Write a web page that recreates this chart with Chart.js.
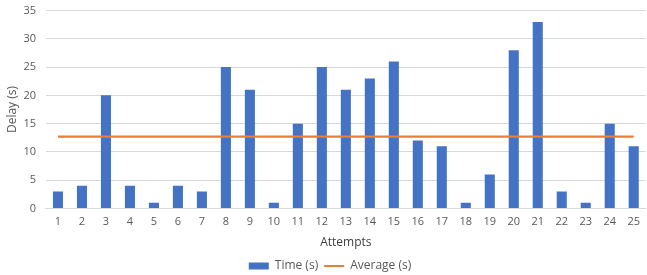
<!DOCTYPE html>
<html>
<head>
<meta charset="utf-8">
<script src="https://cdn.jsdelivr.net/npm/chart.js@4"></script>
<style>
  body { margin: 0; background: #fff; }
  #wrap { width: 647px; height: 275px; }
</style>
</head>
<body>
<div id="wrap"><canvas id="chartDelay"></canvas></div>
<script>
const attempts = [1, 2, 3, 4, 5, 6, 7, 8, 9, 10, 11, 12, 13, 14, 15, 16, 17, 18, 19, 20, 21, 22, 23, 24, 25];
const timeValues = [3, 4, 20, 4, 1, 4, 3, 25, 21, 1, 15, 25, 21, 23, 26, 12, 11, 1, 6, 28, 33, 3, 1, 15, 11];
const averageValues = [12.68, 12.68, 12.68, 12.68, 12.68, 12.68, 12.68, 12.68, 12.68, 12.68, 12.68, 12.68, 12.68,
  12.68, 12.68, 12.68, 12.68, 12.68, 12.68, 12.68, 12.68, 12.68, 12.68, 12.68, 12.68];
const yTicks = [0, 5, 10, 15, 20, 25, 30, 35];

const textColor = "#595959";
const font = { family: "'Open Sans', sans-serif", size: 11 };

const chartDelay = new Chart("chartDelay", {
  type: "bar",
  data: {
    labels: attempts,
    datasets: [
      {
        label: "Time (s)",
        data: timeValues,
        backgroundColor: "#4472C4",
        borderWidth: 0,
        barPercentage: 0.42,
        categoryPercentage: 1,
        order: 2,
      },
      {
        type: "line",
        label: "Average (s)",
        data: averageValues,
        borderColor: "#ED7D31",
        backgroundColor: "#ED7D31",
        borderWidth: 2.25,
        pointRadius: 0,
        fill: false,
        order: 1,
      },
    ],
  },
  options: {
    responsive: true,
    maintainAspectRatio: false,
    animation: false,
    layout: { padding: { top: 0, left: 3, right: -10, bottom: -7 } },
    plugins: {
      tooltip: { enabled: false },
      legend: {
        position: "bottom",
        labels: {
          color: textColor,
          font: { family: font.family, size: 12 },
          usePointStyle: true,
          pointStyleWidth: 20,
          boxHeight: 7,
          padding: 6,
          sort: (a, b) => a.datasetIndex - b.datasetIndex,
          generateLabels(chart) {
            const items = Chart.defaults.plugins.legend.labels.generateLabels(chart);
            items.forEach((it) => {
              if (it.datasetIndex === 0) {
                it.pointStyle = "rect";
                it.lineWidth = 0;
              } else {
                it.pointStyle = "line";
                it.strokeStyle = "#ED7D31";
                it.lineWidth = 2;
              }
            });
            return items;
          },
        },
      },
    },
    scales: {
      y: {
        min: 0,
        max: 35,
        afterBuildTicks(axis) {
          axis.ticks = yTicks.map((v) => ({ value: v }));
        },
        grid: { color: "#d9d9d9", drawTicks: true, tickLength: 6, tickColor: "rgba(0,0,0,0)" },
        border: { display: false },
        ticks: { color: textColor, font, padding: 4 },
        title: {
          display: true,
          text: "Delay (s)",
          color: textColor,
          font: { family: font.family, size: 12 },
          padding: { top: 2, bottom: 0 },
        },
      },
      x: {
        grid: { display: false, drawTicks: false },
        border: { display: true, color: "#d9d9d9" },
        ticks: { color: textColor, font, padding: 7, maxRotation: 0, autoSkip: false },
        title: {
          display: true,
          text: "Attempts",
          color: "#404040",
          font: { family: font.family, size: 12 },
          padding: { top: 0, bottom: 4 },
        },
      },
    },
  },
});
</script>
</body>
</html>
